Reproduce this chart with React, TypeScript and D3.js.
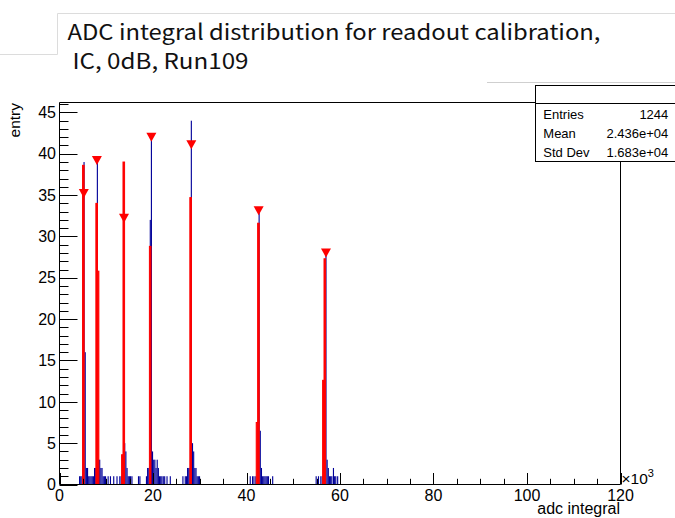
import React from "react";
import * as d3 from "d3";

const W = 675;
const H = 518;

// Blue histogram (adc integral, in units of 10^3), bin centres and entries
const blueX = [
  4.3, 4.55, 4.8, 5.05, 5.25, 5.5, 5.75, 6.0, 6.25, 6.5, 6.75, 7.0, 7.25, 7.5, 7.75,
  8.1, 8.35, 8.6, 8.85, 9.1, 9.35, 9.6, 9.85,
  10.4, 10.9, 11.6, 12.3, 12.9,
  13.2, 13.95, 14.2, 14.45, 14.7, 14.95, 15.2, 15.5,
  16.9, 17.2,
  18.6, 18.85, 19.1, 19.42, 19.66, 19.9, 20.15, 20.4, 20.65, 20.9, 21.15, 21.4, 21.65, 21.9, 22.2, 22.5, 23.0, 23.7,
  26.4, 26.9, 27.15, 27.4, 27.65, 27.9, 28.2, 28.45, 28.7, 28.95, 29.2, 29.45, 29.7, 29.95,
  40.8, 41.3, 41.6, 42.0, 42.7, 42.95, 43.2, 43.45, 43.7, 43.95, 44.2, 44.45, 44.7, 45.6,
  54.9, 55.4, 55.9, 56.2, 57.0, 57.25, 57.5, 57.75, 58.0, 58.25, 58.6, 58.85, 59.1, 59.5,
];
const blueY = [
  1, 1, 1, 1, 39, 16, 2, 2, 1, 1, 1, 1, 1, 2, 2,
  39, 3, 3, 2, 2, 1, 1, 1,
  1, 1, 1, 1, 1,
  1, 5, 4, 2, 1, 1, 1, 1,
  1, 1,
  1, 2, 2, 32, 42, 4, 3, 3, 2, 3, 2, 1, 1, 1, 1, 1, 1, 1,
  1, 1, 1, 2, 2, 2, 44, 5, 4, 2, 2, 1, 1, 1,
  1, 1, 1, 1, 33, 6.5, 2, 1, 1, 1, 1, 1, 1, 1,
  1, 1, 1, 1, 28, 3, 2, 1, 1, 1, 2, 1, 1, 1,
];
const blueBinWidth = 0.24;

// Red histogram (peak region)
const redX = [5.1, 7.95, 8.25, 13.45, 13.75, 19.4, 28.05, 42.25, 42.55, 56.45, 56.75];
const redY = [38.6, 34, 25.8, 3.6, 39, 28.8, 34.7, 7.5, 31.6, 12.6, 27.3];
const redBinWidth = 0.34;

// Peak markers
const peakX = [5.2, 8.0, 13.8, 19.65, 28.2, 42.6, 57.0];
const peakY = [35.2, 39.2, 32.2, 42.0, 41.1, 33.1, 28.0];

const xTickLabels = [0, 20, 40, 60, 80, 100, 120];
const yTickLabels = [0, 5, 10, 15, 20, 25, 30, 35, 40, 45];

const statsLabels = ["Entries", "Mean", "Std Dev"];
const statsValues = ["1244", "2.436e+04", "1.683e+04"];

const titleLine1 = "ADC integral distribution for readout calibration,";
const titleLine2 = "IC, 0dB, Run109";

const ROOT_FONT = "'Liberation Sans', Arial, Helvetica, sans-serif";
const TITLE_FONT = "'Noto Sans CJK JP', 'Noto Sans', sans-serif";

export default function App() {
  const x = d3.scaleLinear().domain([0, 120]).range([59.5, 620.5]);
  const y = d3.scaleLinear().domain([0, 46.2]).range([484.5, 102.5]);
  const y0 = y(0);

  const xMinor = d3.range(0, 121, 5);
  const yMinor = d3.range(0, 47, 1);

  const tri = (cx: number, cy: number) =>
    `M${cx - 5},${cy - 4.5}L${cx + 5},${cy - 4.5}L${cx},${cy + 4.5}Z`;

  const statsLeft = 535.5;
  const statsTop = 85.5;
  const statsSep = 103.5;
  const statsBottom = 161.5;

  return (
    <svg
      width={W}
      height={H}
      style={{ position: "absolute", left: 0, top: 0, background: "#fff" }}
    >
      <rect x={0} y={0} width={W} height={H} fill="#fff" />

      {/* title box outline */}
      <path d="M57.5,13.5H675 M57.5,13.5V54.5 M0,54.5H57.5" stroke="#dcdcdc" strokeWidth={1} fill="none" />
      <text x={67.5} y={39.5} fontFamily={TITLE_FONT} fontSize={21.5} fill="#111" textLength={533} lengthAdjust="spacingAndGlyphs">
        {titleLine1}
      </text>
      <text x={72.5} y={68.5} fontFamily={TITLE_FONT} fontSize={21.5} fill="#111" textLength={176} lengthAdjust="spacingAndGlyphs">
        {titleLine2}
      </text>

      {/* faint line near stats box */}
      <line x1={487} x2={675} y1={82.5} y2={82.5} stroke="#cfcfcf" strokeWidth={1} />

      {/* blue histogram */}
      <g fill="#000099">
        {blueX.map((c, i) => (
          <rect
            key={"b" + i}
            x={x(c - blueBinWidth / 2)}
            width={x(c + blueBinWidth / 2) - x(c - blueBinWidth / 2)}
            y={y(blueY[i])}
            height={y0 - y(blueY[i])}
          />
        ))}
      </g>

      {/* red histogram */}
      <g fill="#ff0000" stroke="#ff0000" strokeWidth={1}>
        {redX.map((c, i) => (
          <rect
            key={"r" + i}
            x={x(c - redBinWidth / 2)}
            width={x(c + redBinWidth / 2) - x(c - redBinWidth / 2)}
            y={y(redY[i])}
            height={y0 - y(redY[i])}
          />
        ))}
      </g>

      {/* peak markers */}
      <g fill="#ff0000">
        {peakX.map((c, i) => (
          <path key={"m" + i} d={tri(x(c), y(peakY[i]))} />
        ))}
      </g>

      {/* frame */}
      <g stroke="#000" strokeWidth={1} fill="none">
        <line x1={59.5} x2={59.5} y1={102.5} y2={484.5} />
        <line x1={59.5} x2={620.5} y1={484.5} y2={484.5} />
        <line x1={620.5} x2={620.5} y1={102.5} y2={484.5} />
        <line x1={59.5} x2={620.5} y1={102.5} y2={102.5} />
      </g>

      {/* x ticks */}
      <g stroke="#000" strokeWidth={1}>
        {xMinor.map((v) => (
          <line
            key={"xt" + v}
            x1={Math.round(x(v)) + 0.5}
            x2={Math.round(x(v)) + 0.5}
            y1={484.5}
            y2={484.5 - (v % 20 === 0 ? 11.5 : 5.7)}
          />
        ))}
      </g>
      {/* y ticks */}
      <g stroke="#000" strokeWidth={1}>
        {yMinor.map((v) => (
          <line
            key={"yt" + v}
            x1={59.5}
            x2={59.5 + (v % 5 === 0 ? 18 : 9)}
            y1={Math.round(y(v)) + 0.5}
            y2={Math.round(y(v)) + 0.5}
          />
        ))}
      </g>

      {/* tick labels */}
      <g fontFamily={ROOT_FONT} fontSize={16} fill="#000">
        {xTickLabels.map((v) => (
          <text key={"xl" + v} x={x(v)} y={500.5} textAnchor="middle">
            {v}
          </text>
        ))}
        {yTickLabels.map((v) => (
          <text key={"yl" + v} x={56} y={y(v) + 5.7} textAnchor="end">
            {v}
          </text>
        ))}
      </g>

      {/* axis titles */}
      <text x={620} y={514} textAnchor="end" fontFamily={ROOT_FONT} fontSize={16} fill="#000">
        adc integral
      </text>
      <text
        transform="translate(20,103) rotate(-90)"
        textAnchor="end"
        fontFamily={ROOT_FONT}
        fontSize={15.5}
        fill="#000"
      >
        entry
      </text>
      <text x={621.5} y={484} fontFamily={ROOT_FONT} fontSize={15.5} fill="#000">
        ×10
        <tspan fontSize={11} dy={-7}>3</tspan>
      </text>

      {/* stats box */}
      <rect x={statsLeft} y={statsTop} width={W - statsLeft + 5} height={statsBottom - statsTop} fill="#fff" stroke="#000" strokeWidth={1} />
      <line x1={statsLeft} x2={W} y1={statsSep} y2={statsSep} stroke="#000" strokeWidth={1} />
      <g fontFamily={ROOT_FONT} fontSize={13} fill="#000">
        {statsLabels.map((s, i) => (
          <text key={"sl" + i} x={543.3} y={119.3 + i * 18.7}>
            {s}
          </text>
        ))}
        {statsValues.map((s, i) => (
          <text key={"sv" + i} x={668.3} y={119.3 + i * 18.7} textAnchor="end">
            {s}
          </text>
        ))}
      </g>
    </svg>
  );
}
